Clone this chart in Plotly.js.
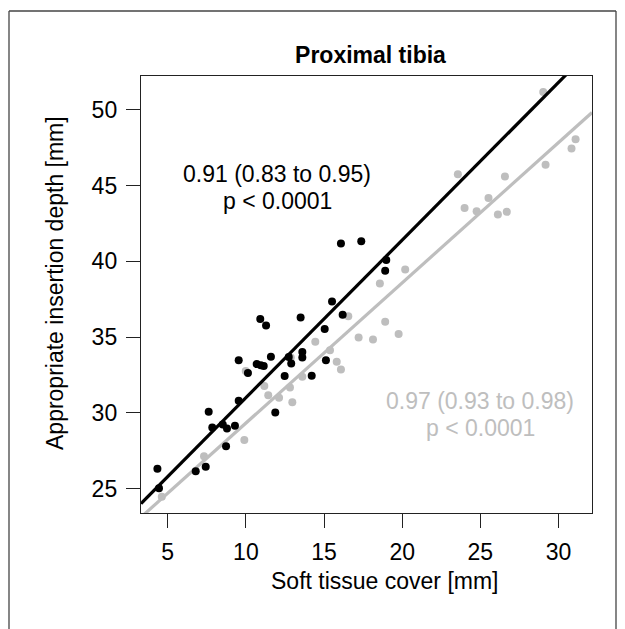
<!DOCTYPE html>
<html>
<head>
<meta charset="utf-8">
<script src="https://cdn.plot.ly/plotly-3.0.1.min.js"></script>
<style>
  html, body { margin: 0; padding: 0; background: #ffffff; }
  #chart { width: 625px; height: 629px; }
</style>
</head>
<body>
<div id="chart"></div>
<script>
// ---- data ----
const blackX = [4.34, 4.44, 6.79, 7.43, 7.62, 7.85, 8.52, 8.79, 8.73, 9.30, 9.54, 9.54, 10.13, 10.69, 10.95, 11.14, 10.92, 11.29, 11.60, 11.88, 12.48, 12.74, 12.90, 13.50, 13.61, 13.61, 14.21, 15.04, 15.12, 15.51, 16.08, 16.19, 17.38, 18.91, 18.98];
const blackY = [26.32, 25.04, 26.16, 26.45, 30.07, 29.04, 29.24, 28.98, 27.81, 29.15, 30.80, 33.48, 32.64, 33.22, 33.15, 33.10, 36.20, 35.77, 33.70, 30.03, 32.43, 33.68, 33.26, 36.29, 34.01, 33.66, 32.45, 35.54, 33.48, 37.35, 41.17, 36.47, 41.32, 39.37, 40.09];

const greyX = [4.62, 7.32, 9.90, 9.99, 11.18, 11.43, 12.12, 12.97, 12.82, 12.87, 13.61, 14.44, 15.38, 15.81, 16.08, 16.55, 17.21, 18.13, 18.57, 18.91, 19.77, 20.19, 23.56, 23.99, 24.76, 25.52, 26.12, 26.57, 26.69, 29.02, 29.17, 30.83, 31.09];
const greyY = [24.47, 27.15, 28.21, 32.76, 31.77, 31.17, 31.00, 30.71, 31.68, 33.66, 32.38, 34.69, 34.14, 33.37, 32.87, 36.38, 34.98, 34.85, 38.54, 36.01, 35.20, 39.46, 45.74, 43.52, 43.30, 44.18, 43.09, 45.59, 43.26, 51.17, 46.36, 47.44, 48.05];

// fitted lines (intercept, slope): [black, grey]
const fitIntercept = [20.6, 20.08];
const fitSlope = [1.04, 0.925];

const xTicks = [5, 10, 15, 20, 25, 30];
const yTicks = [25, 30, 35, 40, 45, 50];

const titleText = "Proximal tibia";
const xTitle = "Soft tissue cover [mm]";
const yTitle = "Appropriate insertion depth [mm]";
const blackLabel = ["0.91 (0.83 to 0.95)", "p < 0.0001"];
const greyLabel = ["0.97 (0.93 to 0.98)", "p < 0.0001"];

// ---- styling ----
const BLACK = "#000000";
const GREY = "#bebebe";
const FONT = "Arial, 'Liberation Sans', Helvetica, sans-serif";
const xRange = [3.29, 32.14];
const yRange = [23.40, 52.22];

function fitLine(i) {
  return { x: xRange.slice(), y: xRange.map(v => fitIntercept[i] + fitSlope[i] * v) };
}

const gl = fitLine(1), bl = fitLine(0);

const traces = [
  { type: "scatter", mode: "markers", x: greyX, y: greyY,
    marker: { color: GREY, size: 8 }, hoverinfo: "skip", showlegend: false },
  { type: "scatter", mode: "lines", x: gl.x, y: gl.y,
    line: { color: GREY, width: 3.2 }, hoverinfo: "skip", showlegend: false },
  { type: "scatter", mode: "markers", x: blackX, y: blackY,
    marker: { color: BLACK, size: 8 }, hoverinfo: "skip", showlegend: false },
  { type: "scatter", mode: "lines", x: bl.x, y: bl.y,
    line: { color: BLACK, width: 3.2 }, hoverinfo: "skip", showlegend: false }
];

// plot area in pixels: left 141, right 592, top 76, bottom 513
const L = 141, R = 592, T = 76, B = 513;
const pxX = px => (px - L) / (R - L);
const pxY = py => (B - py) / (B - T);

const layout = {
  width: 625, height: 629,
  margin: { l: L, r: 625 - R, t: T, b: 629 - B, pad: 0 },
  paper_bgcolor: "#ffffff", plot_bgcolor: "#ffffff",
  font: { family: FONT, size: 23, color: BLACK },
  showlegend: false,
  title: { text: "<b>" + titleText + "</b>", font: { family: FONT, size: 23, color: BLACK },
           xref: "paper", x: pxX(370.5), xanchor: "center",
           yref: "container", y: 1 - 55 / 629, yanchor: "middle" },
  xaxis: { range: xRange, tickvals: xTicks, ticktext: xTicks.map(String),
           ticks: "outside", ticklen: 14, tickwidth: 1, tickcolor: "#222222",
           showgrid: false, zeroline: false, showline: true, mirror: true,
           linecolor: "#222222", linewidth: 1.2, tickfont: { size: 23 },
           ticklabelstandoff: 4 },
  yaxis: { range: yRange, tickvals: yTicks, ticktext: yTicks.map(String),
           ticks: "outside", ticklen: 14, tickwidth: 1, tickcolor: "#222222",
           showgrid: false, zeroline: false, showline: true, mirror: true,
           linecolor: "#222222", linewidth: 1.2, tickfont: { size: 23 },
           ticklabelstandoff: 4 },
  annotations: [
    { text: xTitle, xref: "paper", yref: "paper", x: pxX(385), y: pxY(581),
      xanchor: "center", yanchor: "middle", showarrow: false, font: { size: 23, color: BLACK } },
    { text: yTitle, xref: "paper", yref: "paper", x: pxX(55), y: pxY(283),
      xanchor: "center", yanchor: "middle", textangle: -90, showarrow: false, font: { size: 23, color: BLACK } },
    { text: blackLabel[0], xref: "x", yref: "y", x: 12, y: 45.78, xanchor: "center", yanchor: "middle",
      showarrow: false, font: { size: 23, color: BLACK } },
    { text: blackLabel[1], xref: "x", yref: "y", x: 12, y: 43.99, xanchor: "center", yanchor: "middle",
      showarrow: false, font: { size: 23, color: BLACK } },
    { text: greyLabel[0], xref: "x", yref: "y", x: 25, y: 30.79, xanchor: "center", yanchor: "middle",
      showarrow: false, font: { size: 23, color: GREY } },
    { text: greyLabel[1], xref: "x", yref: "y", x: 25, y: 29.03, xanchor: "center", yanchor: "middle",
      showarrow: false, font: { size: 23, color: GREY } }
  ],
  shapes: [
    { type: "line", xref: "paper", yref: "paper", x0: pxX(9), x1: pxX(9), y0: pxY(11), y1: pxY(640),
      line: { color: "#444444", width: 1.3 } },
    { type: "line", xref: "paper", yref: "paper", x0: pxX(9), x1: pxX(616), y0: pxY(11), y1: pxY(11),
      line: { color: "#444444", width: 1.3 } },
    { type: "line", xref: "paper", yref: "paper", x0: pxX(616), x1: pxX(616), y0: pxY(11), y1: pxY(640),
      line: { color: "#444444", width: 1.3 } }
  ]
};

Plotly.newPlot("chart", traces, layout, { staticPlot: true, displayModeBar: false });
</script>
</body>
</html>
